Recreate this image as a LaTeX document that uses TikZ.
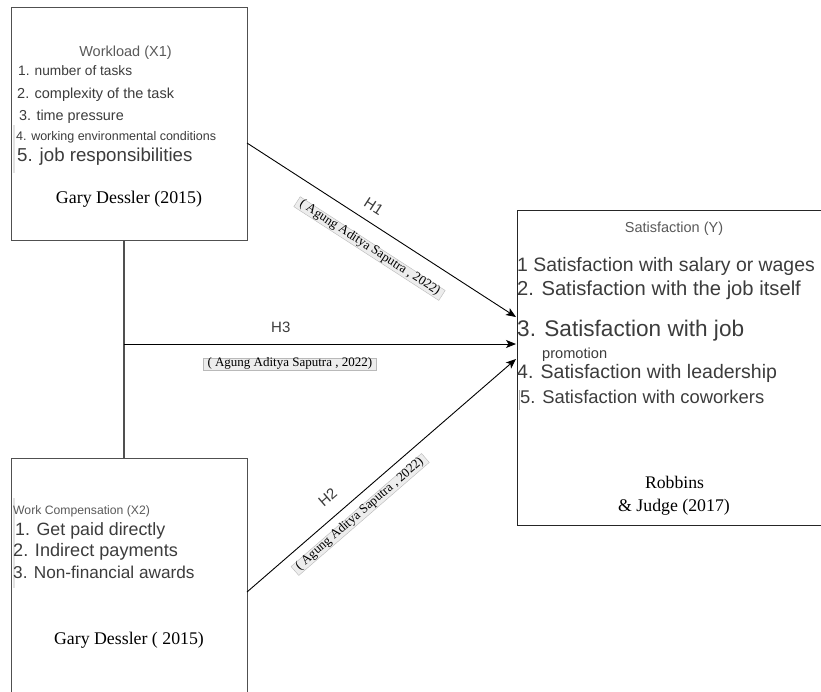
\documentclass[tikz,border=0pt]{standalone}
\usepackage{fontspec}
\setmainfont{Liberation Serif}
\setsansfont{Liberation Sans}
\usetikzlibrary{arrows.meta}
\definecolor{txt}{HTML}{3C3C3C}
\definecolor{ttl}{HTML}{5A5A5A}
\definecolor{brd}{HTML}{505050}
\newcommand{\myfs}[1]{\fontsize{#1}{#1}\selectfont}
\begin{document}
\begin{tikzpicture}[x=1pt,y=-1pt,
  box/.style={draw=brd, line width=1.3pt, anchor=north west, inner sep=0pt},
  lbl/.style={inner sep=0pt, text height=.72em, text depth=0pt, anchor=west, text=txt},
  ser/.style={inner sep=0pt, text height=.66em, text depth=0pt, text=black},
  cite/.style={font=\rmfamily\myfs{13}, fill=gray!14, draw=gray!55, line width=0.4pt,
    inner xsep=4pt, inner ysep=1.5pt, text height=.68em, text depth=.2em},
  arr/.style={draw=black, line width=0.9pt, -{Stealth[length=10pt,width=8pt,inset=2.5pt]}},
  conn/.style={draw=brd, line width=1.3pt},
  hl/.style={font=\sffamily\myfs{15}, text=txt, inner sep=0pt},
  cursor/.style={line width=2pt, draw=gray!22}
]
\useasboundingbox (0,0) rectangle (821,691);
\fill[white] (0,0) rectangle (821,691);

% boxes
\node[box, minimum width=236pt, minimum height=233pt] (x1) at (11,7) {};
\node[box, minimum width=236pt, minimum height=260pt] (x2) at (11,458) {};
\node[box, draw=black!85, minimum width=330pt, minimum height=315pt] (y) at (517,210) {};

% faint cursor marks
\draw[cursor] (14,125) -- (14,173);
\draw[cursor] (14,498) -- (14,588);
\draw[cursor, draw=gray!60, line width=1pt] (519,390) -- (519,410);

% connector coordinates
\coordinate (v1) at (124,240);
\coordinate (v2) at (124,458);
\coordinate (h3s) at (124,344);
\coordinate (h3e) at (516,344);
\coordinate (h1s) at (247,143);
\coordinate (h1e) at (516,317);
\coordinate (h2s) at (247,592);
\coordinate (h2e) at (516,359);

\draw[conn] (v1) -- (v2);
\draw[arr] (h1s) -- node[pos=.44, sloped, above=10pt, hl] (lh1) {H1}
  node[pos=.50, sloped, below=16pt, cite] (ch1) {( Agung Aditya Saputra , 2022)} (h1e);
\draw[arr] (h3s) -- node[pos=.40, above=10.6pt, hl] (lh3) {H3}
  node[pos=.423, below=14pt, cite] (ch3) {( Agung Aditya Saputra , 2022)} (h3e);
\draw[arr] (h2s) -- node[pos=.345, sloped, above=13pt, hl] (lh2) {H2}
  node[pos=.383, sloped, below=9.4pt, cite] (ch2) {( Agung Aditya Saputra , 2022)} (h2e);

% X1 texts
\node[lbl, anchor=center, text=ttl, font=\sffamily\myfs{14.5}] (t1) at (125.5,53) {Workload (X1)};
\node[lbl, font=\sffamily\myfs{13.7}] (a1) at (18,72) {1. number of tasks};
\node[lbl, font=\sffamily\myfs{14.5}] (a2) at (17,95) {2. complexity of the task};
\node[lbl, font=\sffamily\myfs{14.4}] (a3) at (19,117) {3. time pressure};
\node[lbl, font=\sffamily\myfs{12.5}] (a4) at (16,137) {4. working environmental conditions};
\node[lbl, font=\sffamily\myfs{18.7}] (a5) at (17,158) {5. job responsibilities};
\node[ser, font=\rmfamily\myfs{17.9}] (a6) at (129,200) {Gary Dessler (2015)};

% Y texts
\node[lbl, anchor=center, text=ttl, font=\sffamily\myfs{14.5}] (ty) at (674,229) {Satisfaction (Y)};
\node[lbl, font=\sffamily\myfs{19.4}] (y1) at (517,268) {1 Satisfaction with salary or wages};
\node[lbl, font=\sffamily\myfs{20.2}] (y2) at (517,292) {2. Satisfaction with the job itself};
\node[lbl, font=\sffamily\myfs{22.6}] (y3) at (517,333) {3. Satisfaction with job};
\node[lbl, font=\sffamily\myfs{14.6}] (y3b) at (542,355) {promotion};
\node[lbl, font=\sffamily\myfs{19.5}] (y4) at (517,375) {4. Satisfaction with leadership};
\node[lbl, font=\sffamily\myfs{18.4}] (y5) at (520,400) {5. Satisfaction with coworkers};
\node[ser, font=\rmfamily\myfs{17.7}] (yr) at (674.5,485) {Robbins};
\node[ser, font=\rmfamily\myfs{17.8}] (yj) at (674,508) {\& Judge (2017)};

% X2 texts
\node[lbl, text=ttl, font=\sffamily\myfs{12.2}] (t2) at (13,511) {Work Compensation (X2)};
\node[lbl, font=\sffamily\myfs{17.8}] (b1) at (15,532) {1. Get paid directly};
\node[lbl, font=\sffamily\myfs{18.1}] (b2) at (13,553) {2. Indirect payments};
\node[lbl, font=\sffamily\myfs{17.2}] (b3) at (13,575) {3. Non-financial awards};
\node[ser, font=\rmfamily\myfs{17.8}] (b4) at (129,641) {Gary Dessler ( 2015)};
\end{tikzpicture}
\end{document}
